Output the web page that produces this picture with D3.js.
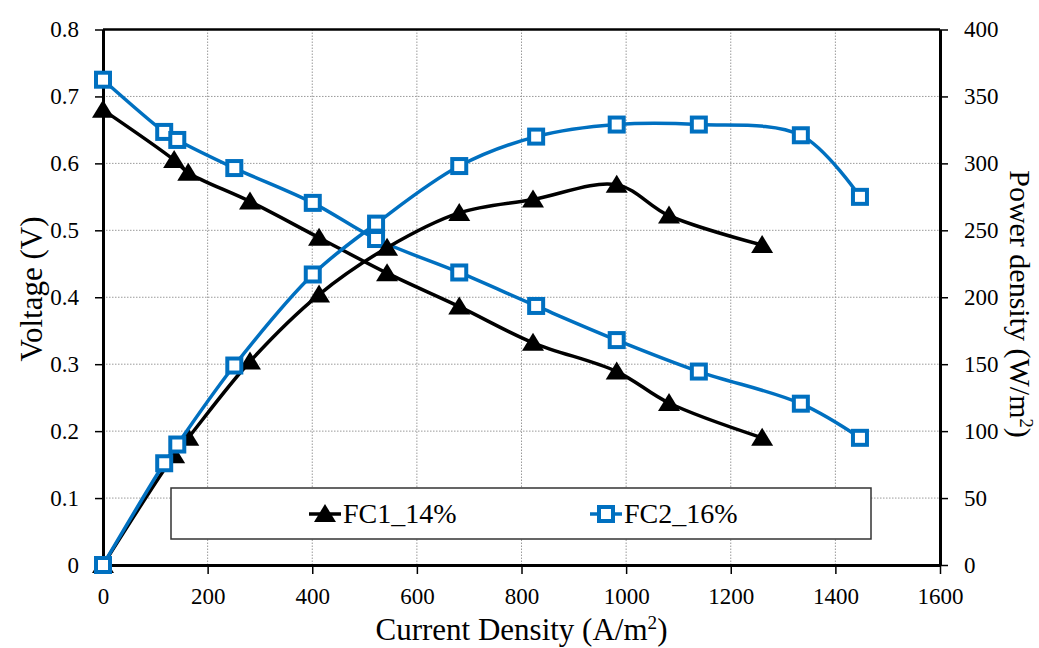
<!DOCTYPE html>
<head>
  <meta charset="utf-8">
  <script src="https://cdn.jsdelivr.net/npm/d3@7"></script>
  <style>
    body { margin: 0; background: #fff; }
    svg { width: 1039px; height: 648px; font-family: "Liberation Serif", serif; }
    .grid line { stroke: #9a9a9a; stroke-width: 1; stroke-dasharray: 1.5,1.5; }
    .axis path, .axis line { stroke: #000; }
  </style>
</head>

<body>
  <svg></svg>
  <script>
    // values
    var fc1Current = [0, 136, 163, 281, 413, 543, 681, 822, 982, 1082, 1260];
    var fc1Voltage = [0.68, 0.605, 0.586, 0.543, 0.489, 0.436, 0.386, 0.332, 0.289, 0.242, 0.19];
    var fc1Power = [0, 82, 95, 152, 202, 237, 263, 273, 284, 261, 239];

    var fc2Current = [0, 117, 142, 251, 401, 522, 681, 828, 982, 1139, 1334, 1447];
    var fc2Voltage = [0.725, 0.647, 0.635, 0.593, 0.541, 0.487, 0.437, 0.387, 0.336, 0.289, 0.241, 0.19];
    var fc2Power = [0, 76, 90, 149, 217, 255, 298, 320, 329, 329, 321, 275];

    var xTicks = [0, 200, 400, 600, 800, 1000, 1200, 1400, 1600];
    var vTicks = [0, 0.1, 0.2, 0.3, 0.4, 0.5, 0.6, 0.7, 0.8];
    var pTicks = [0, 50, 100, 150, 200, 250, 300, 350, 400];

    var black = '#000';
    var blue = '#0070C0';

    var pLeft = 103, pRight = 940, pTop = 29.5, pBottom = 565;
    var svg = d3.select('svg');

    var x = d3.scaleLinear().domain([0, 1600]).range([pLeft, pRight]);
    var yV = d3.scaleLinear().domain([0, 0.8]).range([pBottom, pTop]);
    var yP = d3.scaleLinear().domain([0, 400]).range([pBottom, pTop]);

    // grid
    var grid = svg.append('g').classed('grid', true);
    grid.selectAll('line.v')
      .data(xTicks.slice(1, -1)).enter().append('line')
      .attr('x1', function(d) { return x(d); }).attr('x2', function(d) { return x(d); })
      .attr('y1', pTop).attr('y2', pBottom);
    grid.selectAll('line.h')
      .data(vTicks.slice(1, -1)).enter().append('line')
      .attr('x1', pLeft).attr('x2', pRight)
      .attr('y1', function(d) { return yV(d); }).attr('y2', function(d) { return yV(d); });

    // frame top
    svg.append('line')
      .attr('x1', pLeft).attr('x2', pRight).attr('y1', pTop).attr('y2', pTop)
      .attr('stroke', '#000').attr('stroke-width', 2.5);

    // axes
    var xAxis = svg.append('g').classed('axis', true)
      .attr('transform', 'translate(0,' + pBottom + ')')
      .call(d3.axisBottom(x).tickValues(xTicks).tickSize(9).tickSizeOuter(0).tickPadding(14)
        .tickFormat(d3.format('d')));
    var vAxis = svg.append('g').classed('axis', true)
      .attr('transform', 'translate(' + pLeft + ',0)')
      .call(d3.axisLeft(yV).tickValues(vTicks).tickSize(8).tickSizeOuter(0).tickPadding(16)
        .tickFormat(function(d) { return d === 0 ? '0' : d3.format('.1f')(d); }));
    var pAxis = svg.append('g').classed('axis', true)
      .attr('transform', 'translate(' + pRight + ',0)')
      .call(d3.axisRight(yP).tickValues(pTicks).tickSize(8).tickSizeOuter(0).tickPadding(16)
        .tickFormat(d3.format('d')));
    [xAxis, vAxis, pAxis].forEach(function(a) {
      a.attr('font-size', 23).attr('font-family', '"Liberation Serif", serif');
      a.select('.domain').attr('stroke-width', 3);
      a.selectAll('.tick line').attr('stroke-width', 1.5);
      a.selectAll('.tick text').attr('fill', '#000');
    });

    // axis titles
    function title(g, main, sup, tail) {
      g.append('tspan').text(main);
      if (sup) {
        g.append('tspan').attr('font-size', '0.62em').attr('dy', '-0.55em').text(sup);
        g.append('tspan').attr('dy', '0.34em').text(tail);
      }
    }
    var tx = svg.append('text').attr('x', (pLeft + pRight) / 2).attr('y', 640)
      .attr('text-anchor', 'middle').attr('font-size', 31);
    title(tx, 'Current Density (A/m', '2', ')');

    var tv = svg.append('text').attr('transform', 'translate(42,289)rotate(-90)')
      .attr('text-anchor', 'middle').attr('font-size', 31);
    title(tv, 'Voltage (V)');

    var tp = svg.append('text').attr('transform', 'translate(1010,304)rotate(90)')
      .attr('text-anchor', 'middle').attr('font-size', 30);
    title(tp, 'Power density (W/m', '2', ')');

    // series
    var series = [
      {xs: fc1Current, ys: fc1Voltage, y: yV, color: black, mark: 'tri'},
      {xs: fc2Current, ys: fc2Voltage, y: yV, color: blue, mark: 'sq'},
      {xs: fc1Current, ys: fc1Power, y: yP, color: black, mark: 'tri'},
      {xs: fc2Current, ys: fc2Power, y: yP, color: blue, mark: 'sq'}
    ];

    var triPath = 'M0,-10L11,8L-11,8Z';

    function marker(g, kind, color) {
      if (kind === 'tri') {
        g.append('path').attr('d', triPath).attr('fill', color);
      } else {
        g.append('rect').attr('x', -7).attr('y', -7).attr('width', 14).attr('height', 14)
          .attr('fill', '#fff').attr('stroke', color).attr('stroke-width', 4);
      }
    }

    series.forEach(function(s) {
      var pts = s.xs.map(function(v, i) { return [x(v), s.y(s.ys[i])]; });
      var line = d3.line().curve(d3.curveCatmullRom.alpha(0.5));
      var g = svg.append('g');
      g.append('path').attr('d', line(pts))
        .attr('fill', 'none').attr('stroke', s.color).attr('stroke-width', 3.5);
      pts.forEach(function(p) {
        marker(g.append('g').attr('transform', 'translate(' + p + ')'), s.mark, s.color);
      });
    });

    // legend
    var lg = svg.append('g');
    lg.append('rect').attr('x', 171).attr('y', 488).attr('width', 700).attr('height', 51)
      .attr('fill', '#fff').attr('stroke', '#333').attr('stroke-width', 1.5);
    var items = [
      {label: 'FC1_14%', color: black, mark: 'tri', cx: 325},
      {label: 'FC2_16%', color: blue, mark: 'sq', cx: 606}
    ];
    items.forEach(function(it) {
      var g = lg.append('g').attr('transform', 'translate(' + it.cx + ',514)');
      g.append('line').attr('x1', -16).attr('x2', 16).attr('stroke', it.color).attr('stroke-width', 3.5);
      marker(g, it.mark, it.color);
      g.append('text').attr('x', 18).attr('y', 9).attr('font-size', 28).text(it.label);
    });
  </script>
</body>
